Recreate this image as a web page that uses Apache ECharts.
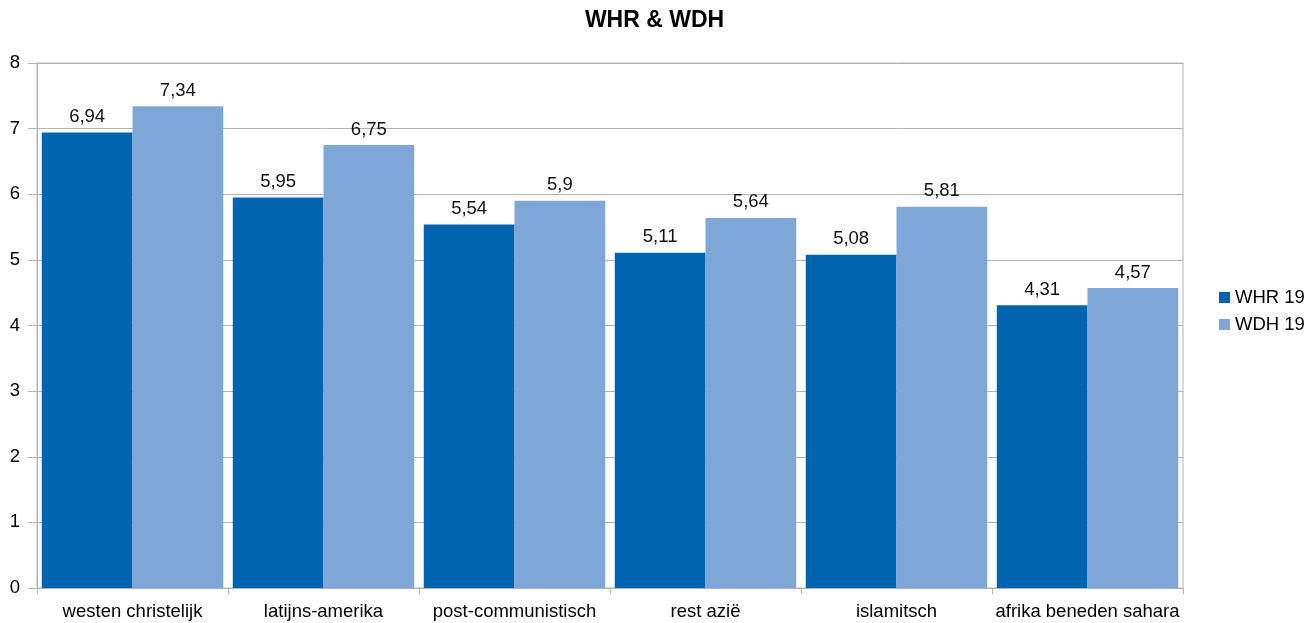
<!DOCTYPE html>
<html>
<head>
<meta charset="utf-8">
<title>WHR & WDH</title>
<script src="https://cdn.jsdelivr.net/npm/echarts@6/dist/echarts.min.js"></script>
<style>
  html, body { margin: 0; padding: 0; background: #fff; }
  #chart { width: 1309px; height: 623px; }
</style>
</head>
<body>
<div id="chart"></div>
<script>
const categories = ['westen christelijk', 'latijns-amerika', 'post-communistisch', 'rest azië', 'islamitsch', 'afrika beneden sahara'];
const whr19 = [6.94, 5.95, 5.54, 5.11, 5.08, 4.31];
const wdh19 = [7.34, 6.75, 5.9, 5.64, 5.81, 4.57];
const yTicks = [0, 8, 1]; // min, max, interval

const font = '"Liberation Sans", Arial, sans-serif';
const gridColor = '#b3b3b3';
const textSize = 18.5;

const myChart = echarts.init(document.getElementById('chart'));

const commaLabel = p => String(p.value).replace('.', ',');

const option = {
    animation: false,
    title: {
        text: 'WHR & WDH',
        left: 'center',
        top: 4,
        textStyle: {
            fontFamily: font,
            fontSize: 23,
            fontWeight: 'bold',
            color: '#000'
        }
    },
    legend: {
        orient: 'vertical',
        left: 1214,
        top: 283,
        itemWidth: 11,
        itemHeight: 11,
        itemGap: 8,
        icon: 'rect',
        textStyle: {
            fontFamily: font,
            fontSize: textSize,
            color: '#000'
        },
        data: ['WHR 19', 'WDH 19']
    },
    grid: {
        left: 37,
        right: 126,
        top: 63,
        bottom: 35,
        show: true,
        borderColor: gridColor,
        borderWidth: 1
    },
    xAxis: {
        type: 'category',
        data: categories,
        axisLine: { lineStyle: { color: gridColor } },
        axisTick: { show: true, length: 6, lineStyle: { color: gridColor } },
        axisLabel: {
            fontFamily: font,
            fontSize: textSize,
            color: '#000',
            margin: 14,
            interval: 0
        }
    },
    yAxis: {
        type: 'value',
        min: yTicks[0],
        max: yTicks[1],
        interval: yTicks[2],
        axisLine: { show: true, lineStyle: { color: gridColor } },
        axisTick: { show: true, length: 9, lineStyle: { color: gridColor } },
        splitLine: { lineStyle: { color: gridColor } },
        axisLabel: {
            fontFamily: font,
            fontSize: textSize,
            color: '#000',
            margin: 17
        }
    },
    series: [
        {
            name: 'WHR 19',
            type: 'bar',
            data: whr19,
            barGap: '0%',
            barCategoryGap: '5%',
            itemStyle: { color: '#0064b1' },
            label: {
                show: true,
                position: 'top',
                distance: 6,
                fontFamily: font,
                fontSize: textSize,
                color: '#111',
                formatter: commaLabel
            }
        },
        {
            name: 'WDH 19',
            type: 'bar',
            data: wdh19,
            barGap: '0%',
            barCategoryGap: '5%',
            itemStyle: { color: '#7ea7d8' },
            label: {
                show: true,
                position: 'top',
                distance: 6,
                fontFamily: font,
                fontSize: textSize,
                color: '#111',
                formatter: commaLabel
            }
        }
    ]
};

myChart.setOption(option);
</script>
</body>
</html>
